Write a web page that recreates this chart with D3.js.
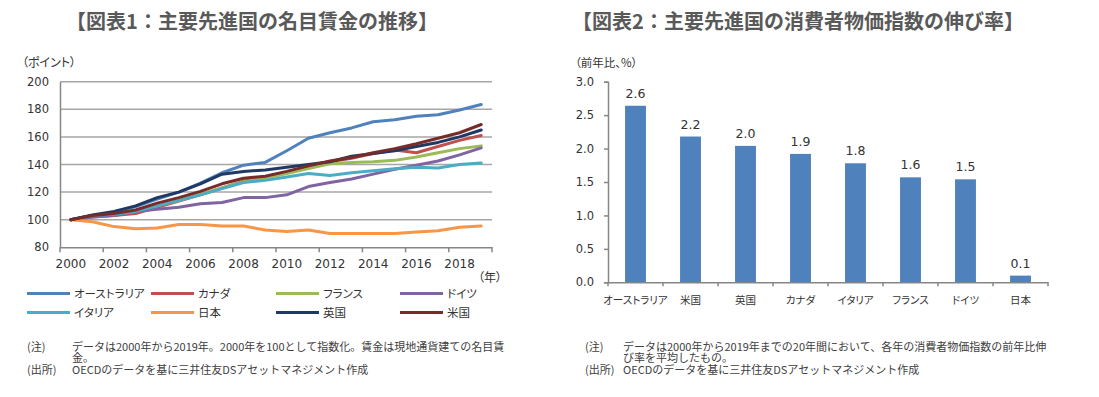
<!DOCTYPE html>
<html><head><meta charset="utf-8">
<script src="https://cdn.jsdelivr.net/npm/d3@7"></script>
<style>
body{margin:0;background:#fff;}
svg{display:block;}
.jp{font-family:"Noto Sans CJK JP",sans-serif;font-feature-settings:"palt";}
.ttl,.note{font-family:"Noto Sans CJK JP",sans-serif;}
.num{font-family:"DejaVu Sans","Noto Sans CJK JP",sans-serif;}
</style></head>
<body>
<svg id="c" width="1099" height="397"></svg>
<script>
// ---- Chart 1 data ----
const years = ["2000","2001","2002","2003","2004","2005","2006","2007","2008","2009","2010","2011","2012","2013","2014","2015","2016","2017","2018","2019"];
const yearTicks = ["2000","2002","2004","2006","2008","2010","2012","2014","2016","2018"];
const wageTicks = [80,100,120,140,160,180,200];
const seriesNames = ["オーストラリア","カナダ","フランス","ドイツ","イタリア","日本","英国","米国"];
const australia = [100,103,105.5,109.5,115,120,126.5,134,139.5,141.5,150,159,163,166.5,171,172.5,175,176,179.5,183.5];
const canada    = [100,102,103,104.5,109,113.5,118,123,128,131,134,138.5,142,144.5,148,150.5,148.5,153,157.5,161];
const france    = [100,102.5,104,106,110,114,118.5,123,127.5,130,133.5,137,140.5,141.5,142,143,145.5,148.5,151.5,153.5];
const germany   = [100,102,103,106,107.5,109,111.5,112.5,116,116,118,124,127,129.5,133,136.5,139.5,142.5,147,152];
const italy     = [100,103,104,106,110,114,118,122.5,127,128.5,131,133.5,132,134,135.5,137,138,137.5,140,141];
const japan     = [100,98.5,95,93.5,94,96.5,96.5,95.5,95.5,92.5,91.5,92.5,90,90,90,90,91,92,94.5,95.5];
const uk        = [100,103.5,106,110,116,120,126,133,135,136,138,140,142,146,148,150,153,156,160,165];
const us        = [100,103,104.5,107,112,116,120.5,126,130,131.5,135,139,142.5,145,148.5,151.5,155,159,163,169];
const seriesValues = [australia,canada,france,germany,italy,japan,uk,us];
const seriesColors = ["#4f81bd","#c0504d","#9bbb59","#8064a2","#4bacc6","#f79646","#1f3864","#772c2a"];

// ---- Chart 2 data ----
const cpiCountries = ["オーストラリア","米国","英国","カナダ","イタリア","フランス","ドイツ","日本"];
const cpiValues = [2.64,2.18,2.04,1.92,1.78,1.57,1.54,0.10];
const cpiTicks = [0,0.5,1.0,1.5,2.0,2.5,3.0];

const svg = d3.select("#c");
const gridCol = "#a6a6a6", axisCol = "#868686", textCol = "#333";

// ===== Titles =====
svg.append("text").attr("class","ttl").attr("x",252).attr("y",29).attr("text-anchor","middle")
  .attr("font-size",20).attr("font-weight",700).attr("fill","#595959").text("【図表1：主要先進国の名目賃金の推移】");
svg.append("text").attr("class","ttl").attr("x",798).attr("y",29).attr("text-anchor","middle")
  .attr("font-size",20).attr("font-weight",700).attr("fill","#595959").text("【図表2：主要先進国の消費者物価指数の伸び率】");

// ===== Chart 1 =====
const x1 = d3.scaleBand().domain(years).range([60,492]);
const y1 = d3.scaleLinear().domain([80,200]).range([247.3,81.7]);
const g1 = svg.append("g");
g1.selectAll("line.grid").data(wageTicks.filter(d=>d>80)).join("line")
  .attr("x1",60).attr("x2",492).attr("y1",d=>y1(d)).attr("y2",d=>y1(d))
  .attr("stroke",gridCol).attr("stroke-width",1.5);
const yAx1 = g1.append("g").attr("transform","translate(60,0)")
  .call(d3.axisLeft(y1).tickValues(wageTicks).tickSize(0).tickPadding(11));
yAx1.select(".domain").attr("stroke",axisCol).attr("stroke-width",1.5);
yAx1.selectAll("text").attr("class","num").attr("font-size",11.5).attr("fill",textCol);
const xAx1 = g1.append("g").attr("transform",`translate(0,${y1(80)})`)
  .call(d3.axisBottom(x1).tickValues(yearTicks).tickSize(0).tickPadding(12));
xAx1.select(".domain").attr("stroke",axisCol).attr("stroke-width",1.5);
xAx1.selectAll("text").attr("class","num").attr("font-size",12).attr("fill",textCol);
g1.selectAll("line.xt").data(years.filter((d,i)=>i%2===0).concat(["__end"])).join("line")
  .attr("x1",d=>d==="__end"?x1.range()[1]:x1(d)).attr("x2",d=>d==="__end"?x1.range()[1]:x1(d))
  .attr("y1",y1(80)).attr("y2",y1(80)+5).attr("stroke",axisCol).attr("stroke-width",1.5);
const line1 = d3.line().x((d,i)=>x1(years[i])+x1.bandwidth()/2).y(d=>y1(d));
g1.selectAll("path.s").data(seriesValues).join("path")
  .attr("d",line1).attr("fill","none").attr("stroke",(d,i)=>seriesColors[i])
  .attr("stroke-width",3).attr("stroke-linejoin","round").attr("stroke-linecap","round");
svg.append("text").attr("class","jp").attr("x",22).attr("y",67).attr("font-size",12).attr("fill",textCol).text("（ポイント）");
svg.append("text").attr("class","jp").attr("x",478).attr("y",282).attr("font-size",12).attr("fill",textCol).text("（年）");
const legCols = [27,151,276,400];
seriesNames.forEach((n,i)=>{
  const cx = legCols[i%4], cy = i<4 ? 293.5 : 312.5;
  svg.append("line").attr("x1",cx).attr("x2",cx+43).attr("y1",cy).attr("y2",cy)
    .attr("stroke",seriesColors[i]).attr("stroke-width",3);
  svg.append("text").attr("class","jp").attr("x",cx+47).attr("y",cy+4.5).attr("font-size",11.5).attr("fill",textCol).text(n);
});
const note1 = [["(注)","データは2000年から2019年。2000年を100として指数化。賃金は現地通貨建ての名目賃"],["","金。"],["(出所)","OECDのデータを基に三井住友DSアセットマネジメント作成"]];
note1.forEach((r,i)=>{
  const yy = 350.5 + i*11.5;
  if (r[0]) svg.append("text").attr("class","note").attr("x",27).attr("y",yy).attr("font-size",11).attr("fill","#404040").text(r[0]);
  svg.append("text").attr("class","note").attr("x",72).attr("y",yy).attr("font-size",11).attr("fill","#404040").text(r[1]);
});

// ===== Chart 2 =====
const x2 = d3.scaleBand().domain(cpiCountries).range([608,1048]).paddingInner(0.62).paddingOuter(0.31);
const y2 = d3.scaleLinear().domain([0,3]).range([282.3,81.7]);
const g2 = svg.append("g");
const yAx2 = g2.append("g").attr("transform","translate(608,0)")
  .call(d3.axisLeft(y2).tickValues(cpiTicks).tickFormat(d3.format(".1f")).tickSize(4).tickPadding(10));
yAx2.selectAll("line,.domain").attr("stroke",axisCol).attr("stroke-width",1.5);
yAx2.selectAll("text").attr("class","num").attr("font-size",11.5).attr("fill",textCol);
g2.selectAll("rect").data(cpiValues).join("rect")
  .attr("x",(d,i)=>x2(cpiCountries[i])).attr("width",x2.bandwidth())
  .attr("y",d=>y2(d)).attr("height",d=>y2(0)-y2(d)).attr("fill","#4f81bd");
g2.selectAll("text.v").data(cpiValues).join("text").attr("class","num")
  .attr("x",(d,i)=>x2(cpiCountries[i])+x2.bandwidth()/2).attr("y",d=>y2(d)-8)
  .attr("text-anchor","middle").attr("font-size",12.5).attr("fill",textCol).text(d=>d.toFixed(1));
const xAx2 = g2.append("g").attr("transform",`translate(0,${y2(0)})`)
  .call(d3.axisBottom(x2).tickSize(0).tickPadding(14));
xAx2.select(".domain").attr("stroke",axisCol).attr("stroke-width",1.5);
xAx2.selectAll("text").attr("class","jp").attr("font-size",10.5).attr("fill",textCol);
const step = x2.step();
g2.selectAll("line.xt2").data(d3.range(cpiCountries.length+1)).join("line")
  .attr("x1",d=>608+d*step).attr("x2",d=>608+d*step).attr("y1",y2(0)).attr("y2",y2(0)+4)
  .attr("stroke",axisCol).attr("stroke-width",1.5);
svg.append("text").attr("class","jp").attr("x",575).attr("y",67).attr("font-size",11.5).attr("fill",textCol).text("（前年比、%）");
const note2 = [["(注)","データは2000年から2019年までの20年間において、各年の消費者物価指数の前年比伸"],["","び率を平均したもの。"],["(出所)","OECDのデータを基に三井住友DSアセットマネジメント作成"]];
note2.forEach((r,i)=>{
  const yy = 350.5 + i*11.5;
  if (r[0]) svg.append("text").attr("class","note").attr("x",585).attr("y",yy).attr("font-size",11).attr("fill","#404040").text(r[0]);
  svg.append("text").attr("class","note").attr("x",623).attr("y",yy).attr("font-size",11).attr("fill","#404040").text(r[1]);
});
</script>
</body></html>
